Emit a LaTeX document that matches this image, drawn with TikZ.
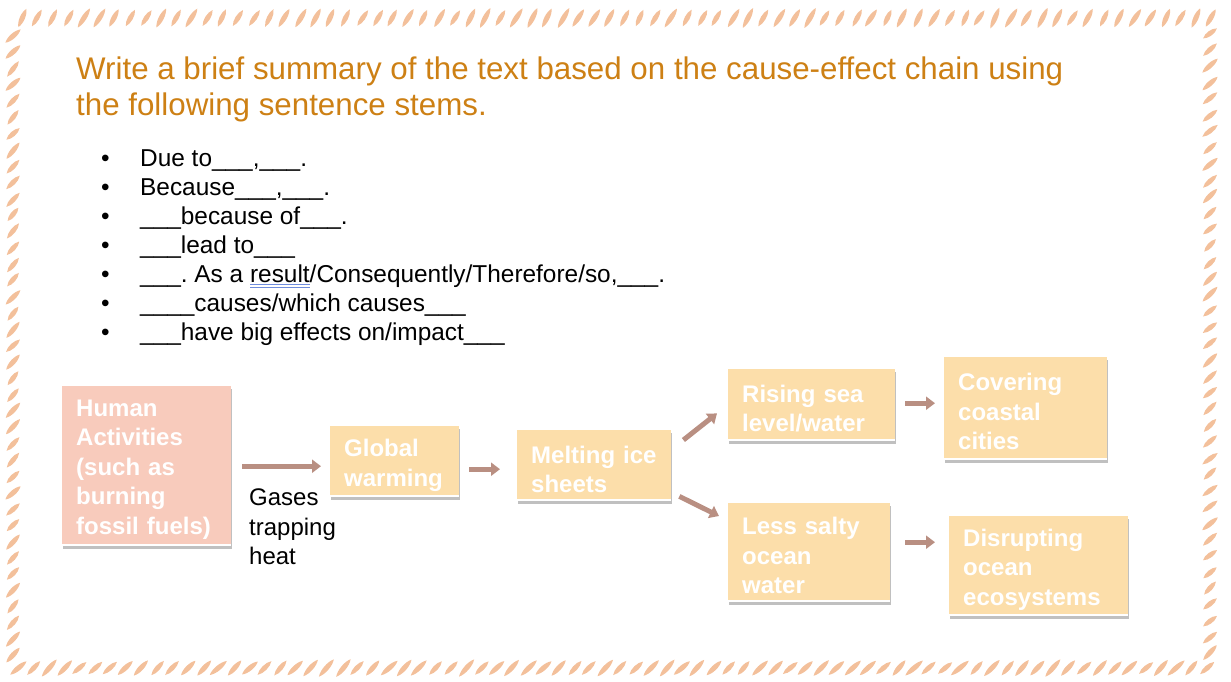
\documentclass[tikz,border=0pt]{standalone}
\usepackage{fontspec}
\setmainfont{Liberation Sans}
\usetikzlibrary{arrows.meta,calc,shadows}

\definecolor{hatchc}{RGB}{243,192,155}
\definecolor{titlec}{RGB}{205,128,20}
\definecolor{salmonc}{RGB}{248,203,188}
\definecolor{peachc}{RGB}{252,222,170}
\definecolor{arrowc}{RGB}{185,143,130}
\definecolor{spellc}{RGB}{110,140,220}

% double proofing underline under a word
\newcommand\proofmark[1]{\setbox0\hbox{#1}%
  \rlap{\color{spellc}\rule[-2.2pt]{\wd0}{0.8pt}}%
  \rlap{\color{spellc}\rule[-5pt]{\wd0}{0.8pt}}\box0}

\tikzset{
  stroke/.pic={\fill[hatchc] (-#1,0) .. controls (-#1/2,3.4) and (#1/2,3.4) .. (#1,0)
                 .. controls (#1/2,-3.4) and (-#1/2,-3.4) .. cycle;},
  chainbox/.style={anchor=north west, inner sep=0pt, fill=peachc,
    drop shadow={shadow xshift=1pt, shadow yshift=-2.5pt, fill=black!45, opacity=0.55}},
  boxtext/.style={inner sep=0pt, align=left, text=white,
    font=\fontsize{24}{29.5}\selectfont\bfseries},
  flow/.style={draw=arrowc, line width=5pt, -{Triangle[length=9pt,width=13pt]}},
  stem/.style={anchor=base west, inner sep=0pt, font=\fontsize{24.4}{29}\selectfont}
}

\begin{document}
\frenchspacing
\begin{tikzpicture}[x=1pt,y=-1pt]
\useasboundingbox (0,0) rectangle (1231,681);

% hand-drawn hatched frame
\pgfmathsetseed{11}
\foreach \i in {0,...,77}{
  \pgfmathsetmacro\px{22+15.45*\i+2*(rnd-0.5)}
  \pgfmathsetmacro\pa{61+12*(rnd-0.5)}
  \pgfmathsetmacro\pl{9+2.5*rnd}
  \pic[shift={(\px,18)}, rotate=\pa] {stroke=\pl};
  \pgfmathsetmacro\qx{18+15.45*\i+2*(rnd-0.5)}
  \pgfmathsetmacro\qa{45+12*(rnd-0.5)}
  \pgfmathsetmacro\ql{9+2.5*rnd}
  \pic[shift={(\qx,668)}, rotate=\qa] {stroke=\ql};
}
\foreach \i in {0,...,38}{
  \pgfmathsetmacro\py{36+16.3*\i+2*(rnd-0.5)}
  \pgfmathsetmacro\pa{47+12*(rnd-0.5)}
  \pgfmathsetmacro\pl{8.5+2*rnd}
  \pic[shift={(13,\py)}, rotate=\pa] {stroke=\pl};
  \pgfmathsetmacro\qy{34+16.3*\i+2*(rnd-0.5)}
  \pgfmathsetmacro\qa{42+12*(rnd-0.5)}
  \pgfmathsetmacro\ql{8.5+2*rnd}
  \pic[shift={(1210,\qy)}, rotate=\qa] {stroke=\ql};
}

% heading (anchored at the baseline of its last line)
\node[anchor=base west, inner sep=0pt, align=left, text=titlec,
      font=\fontsize{31.3}{36.4}\selectfont] (title) at (76,115.7)
  {Write a brief summary of the text based on the cause-effect chain using\\
   the following sentence stems.};

% sentence stems
\node[stem] (s1) at (101,166.0) {\makebox[39pt][l]{•}Due to\_\_\_,\_\_\_.};
\node[stem] (s2) at (101,195.1) {\makebox[39pt][l]{•}Because\_\_\_,\_\_\_.};
\node[stem] (s3) at (101,224.2) {\makebox[39pt][l]{•}\_\_\_because of\_\_\_.};
\node[stem] (s4) at (101,253.3) {\makebox[39pt][l]{•}\_\_\_lead to\_\_\_};
\node[stem] (s5) at (101,282.4) {\makebox[39pt][l]{•}\_\_\_. As a \proofmark{result}/Consequently/Therefore/so,\_\_\_.};
\node[stem] (s6) at (101,311.5) {\makebox[39pt][l]{•}\_\_\_\_causes/which causes\_\_\_};
\node[stem] (s7) at (101,340.6) {\makebox[39pt][l]{•}\_\_\_have big effects on/impact\_\_\_};

% cause-effect chain: boxes
\node[chainbox, fill=salmonc, minimum width=169pt, minimum height=160pt] (hum) at (62,386) {};
\node[chainbox, minimum width=129pt, minimum height=71pt]  (glob)  at (330,426) {};
\node[chainbox, minimum width=154pt, minimum height=71pt]  (melt)  at (517,430) {};
\node[chainbox, minimum width=167pt, minimum height=72pt]  (rise)  at (728,369) {};
\node[chainbox, minimum width=163pt, minimum height=103pt] (cover) at (944,357) {};
\node[chainbox, minimum width=162pt, minimum height=99pt]  (salt)  at (728,503) {};
\node[chainbox, minimum width=179pt, minimum height=100pt] (eco)   at (949,516) {};

% light strip along the bottom of each box
\foreach \b in {hum,glob,melt,rise,cover,salt,eco}
  \draw[white, line width=2.5pt] ([yshift=1.25pt]\b.south west) -- ([yshift=1.25pt]\b.south east);

% box texts
\node[boxtext, text width=141pt] (hum-t)   at ($(hum.center)+(0,3.5)$)   {Human\\Activities\\(such as\\burning\\fossil fuels)};
\node[boxtext, text width=101pt] (glob-t)  at ($(glob.center)+(0,3.5)$)  {Global\\warming};
\node[boxtext, text width=126pt] (melt-t)  at ($(melt.center)+(0,3.5)$)  {Melting ice\\sheets};
\node[boxtext, text width=139pt] (rise-t)  at ($(rise.center)+(0,3.5)$)  {Rising sea\\level/water};
\node[boxtext, text width=135pt] (cover-t) at ($(cover.center)+(0,3)$)   {Covering\\coastal\\cities};
\node[boxtext, text width=134pt] (salt-t)  at ($(salt.center)+(0,3)$)    {Less salty\\ocean\\water};
\node[boxtext, text width=151pt] (eco-t)   at ($(eco.center)+(0,3.5)$)   {Disrupting\\ocean\\ecosystems};

\node[anchor=base west, inner sep=0pt, align=left, font=\fontsize{24}{29.5}\selectfont]
  (gas) at (249,564.5) {Gases\\trapping\\heat};

% arrows
\draw[flow] ($(hum.east)+(11,0)$) -- ($(hum.east -| glob.west)+(-9,0)$);
\draw[flow] ($(glob.east)+(10,7.5)$) -- ($(glob.east -| melt.west)+(-17,7.5)$);
\draw[flow] ($(melt.north east)+(12,10)$) -- ($(rise.south west)+(-11,-28)$);
\draw[flow] ($(melt.south east)+(8,-5)$) -- ($(salt.north west)+(-9,13)$);
\draw[flow] ($(rise.east)+(10,-2)$) -- ($(rise.east -| cover.west)+(-9,-2)$);
\draw[flow] ($(salt.east)+(15,-10.5)$) -- ($(salt.east -| eco.west)+(-14,-10.5)$);
\end{tikzpicture}
\end{document}
